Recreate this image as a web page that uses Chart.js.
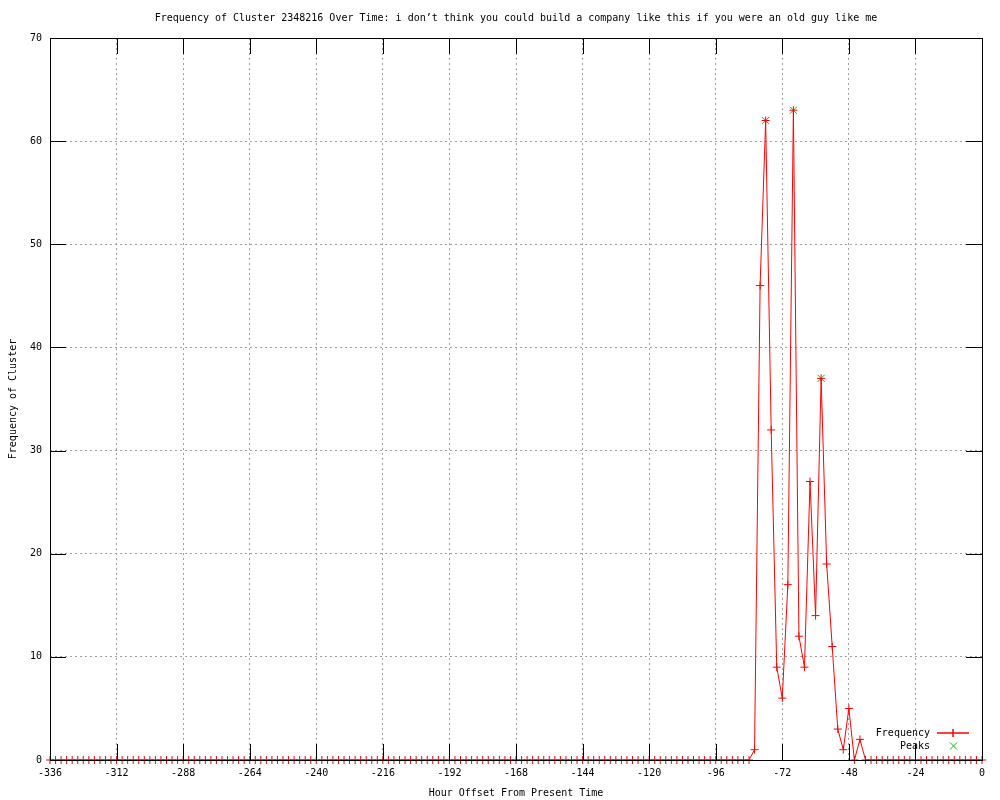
<!DOCTYPE html>
<html>
<head>
<script src="https://cdn.jsdelivr.net/npm/chart.js@4.4.1/dist/chart.umd.min.js"></script>
<style>
body { margin: 0; background: #ffffff; }
#wrap { width: 1000px; height: 800px; }
</style>
</head>
<body>
<div id="wrap"><canvas id="chart" width="1000" height="800"></canvas></div>
<script>
// hour offsets (x) and cluster frequency, one row = 24 hours
var hours = [
  -336,-334,-332,-330,-328,-326,-324,-322,-320,-318,-316,-314,
  -312,-310,-308,-306,-304,-302,-300,-298,-296,-294,-292,-290,
  -288,-286,-284,-282,-280,-278,-276,-274,-272,-270,-268,-266,
  -264,-262,-260,-258,-256,-254,-252,-250,-248,-246,-244,-242,
  -240,-238,-236,-234,-232,-230,-228,-226,-224,-222,-220,-218,
  -216,-214,-212,-210,-208,-206,-204,-202,-200,-198,-196,-194,
  -192,-190,-188,-186,-184,-182,-180,-178,-176,-174,-172,-170,
  -168,-166,-164,-162,-160,-158,-156,-154,-152,-150,-148,-146,
  -144,-142,-140,-138,-136,-134,-132,-130,-128,-126,-124,-122,
  -120,-118,-116,-114,-112,-110,-108,-106,-104,-102,-100,-98,
  -96,-94,-92,-90,-88,-86,-84,-82,-80,-78,-76,-74,
  -72,-70,-68,-66,-64,-62,-60,-58,-56,-54,-52,-50,
  -48,-46,-44,-42,-40,-38,-36,-34,-32,-30,-28,-26,
  -24,-22,-20,-18,-16,-14,-12,-10,-8,-6,-4,-2,
  0
];
var frequency = [
  0,0,0,0,0,0,0,0,0,0,0,0,
  0,0,0,0,0,0,0,0,0,0,0,0,
  0,0,0,0,0,0,0,0,0,0,0,0,
  0,0,0,0,0,0,0,0,0,0,0,0,
  0,0,0,0,0,0,0,0,0,0,0,0,
  0,0,0,0,0,0,0,0,0,0,0,0,
  0,0,0,0,0,0,0,0,0,0,0,0,
  0,0,0,0,0,0,0,0,0,0,0,0,
  0,0,0,0,0,0,0,0,0,0,0,0,
  0,0,0,0,0,0,0,0,0,0,0,0,
  0,0,0,0,0,0,0,1,46,62,32,9,
  6,17,63,12,9,27,14,37,19,11,3,1,
  5,0,2,0,0,0,0,0,0,0,0,0,
  0,0,0,0,0,0,0,0,0,0,0,0,
  0
];
var peakHours = [-78, -68, -58];
var peakValues = [62, 63, 37];

var xTicks = [-336,-312,-288,-264,-240,-216,-192,-168,-144,-120,-96,-72,-48,-24,0];
var yTicks = [0,10,20,30,40,50,60,70];

var RED = "#ff0000";
var GREEN = "#00c000";

var titleText = "Frequency of Cluster 2348216 Over Time: i don\u2019t think you could build a company like this if you were an old guy like me";

Chart.defaults.font.family = "'DejaVu Sans Mono', monospace";
Chart.defaults.font.size = 10;
Chart.defaults.color = "#000000";

function pts(xs, ys) {
  var out = [];
  for (var i = 0; i < xs.length; i++) out.push({x: xs[i], y: ys[i]});
  return out;
}

function gridColor(c) {
  var s = c.scale;
  if (c.tick && (c.tick.value === s.min || c.tick.value === s.max)) return "rgba(0,0,0,0)";
  return "#a0a0a0";
}

// gnuplot look: title over plot, black frame, inward ticks, legend in the corner
var gnuplotBits = {
  id: "gnuplotBits",
  afterDatasetsDraw: function(chart) {
    var ctx = chart.ctx, a = chart.chartArea;
    var xs = chart.scales.x, ys = chart.scales.y;
    ctx.save();
    ctx.strokeStyle = "#000000";
    ctx.lineWidth = 1;
    ctx.beginPath();
    xTicks.forEach(function(v) {
      var p = Math.round(xs.getPixelForValue(v)) + 0.5;
      ctx.moveTo(p, a.bottom); ctx.lineTo(p, a.bottom - 16);
      ctx.moveTo(p, a.top); ctx.lineTo(p, a.top + 16);
    });
    yTicks.forEach(function(v) {
      var p = Math.round(ys.getPixelForValue(v)) + 0.5;
      ctx.moveTo(a.left, p); ctx.lineTo(a.left + 16, p);
      ctx.moveTo(a.right, p); ctx.lineTo(a.right - 16, p);
    });
    ctx.stroke();
    ctx.strokeRect(Math.round(a.left) + 0.5, Math.round(a.top) + 0.5,
      Math.round(a.right - a.left), Math.round(a.bottom - a.top));

    // title
    ctx.fillStyle = "#000000";
    ctx.font = "10px 'DejaVu Sans Mono', monospace";
    ctx.textAlign = "center";
    ctx.textBaseline = "middle";
    ctx.fillText(titleText, (a.left + a.right) / 2, 18);

    // legend
    var ds = chart.data.datasets;
    ctx.textAlign = "right";
    ctx.fillText(ds[0].label, 930, 733);
    ctx.fillText(ds[1].label, 930, 746);
    ctx.strokeStyle = RED;
    ctx.lineWidth = 1.5;
    ctx.beginPath();
    ctx.moveTo(937, 733); ctx.lineTo(969, 733);
    ctx.moveTo(953, 729); ctx.lineTo(953, 737);
    ctx.stroke();
    ctx.strokeStyle = GREEN;
    ctx.lineWidth = 1;
    ctx.beginPath();
    ctx.moveTo(950, 742.5); ctx.lineTo(957, 749.5);
    ctx.moveTo(957, 742.5); ctx.lineTo(950, 749.5);
    ctx.stroke();
    ctx.restore();
  }
};

var chart = new Chart(document.getElementById("chart"), {
  type: "line",
  data: {
    datasets: [
      {
        label: "Frequency",
        data: pts(hours, frequency),
        borderColor: RED,
        backgroundColor: RED,
        borderWidth: 1,
        tension: 0,
        pointStyle: "cross",
        pointRadius: 4,
        pointBorderWidth: 1,
        pointBorderColor: RED,
        clip: false
      },
      {
        label: "Peaks",
        data: pts(peakHours, peakValues),
        borderColor: GREEN,
        backgroundColor: GREEN,
        showLine: false,
        pointStyle: "crossRot",
        pointRadius: 5,
        pointBorderWidth: 1,
        pointBorderColor: GREEN,
        clip: false
      }
    ]
  },
  options: {
    responsive: false,
    animation: false,
    layout: { padding: { top: 38, right: 18, left: 0, bottom: 0 } },
    plugins: {
      legend: { display: false },
      tooltip: { enabled: false }
    },
    scales: {
      x: {
        type: "linear",
        min: -336,
        max: 0,
        afterFit: function(s) { s.height = 40; },
        afterBuildTicks: function(s) { s.ticks = xTicks.map(function(v) { return {value: v}; }); },
        ticks: { autoSkip: false, maxRotation: 0, padding: 7, color: "#000000" },
        grid: { color: gridColor, drawTicks: false, lineWidth: 1 },
        border: { display: false, dash: [2, 3] },
        title: { display: true, text: "Hour Offset From Present Time", padding: { top: 0, bottom: 1 }, color: "#000000" }
      },
      y: {
        min: 0,
        max: 70,
        afterFit: function(s) { s.width = 50; },
        afterBuildTicks: function(s) { s.ticks = yTicks.map(function(v) { return {value: v}; }); },
        ticks: { padding: 8, color: "#000000" },
        grid: { color: gridColor, drawTicks: false, lineWidth: 1 },
        border: { display: false, dash: [2, 3] },
        title: { display: true, text: "Frequency of Cluster", padding: { top: 7, bottom: 0 }, color: "#000000" }
      }
    }
  },
  plugins: [gnuplotBits]
});
</script>
</body>
</html>
